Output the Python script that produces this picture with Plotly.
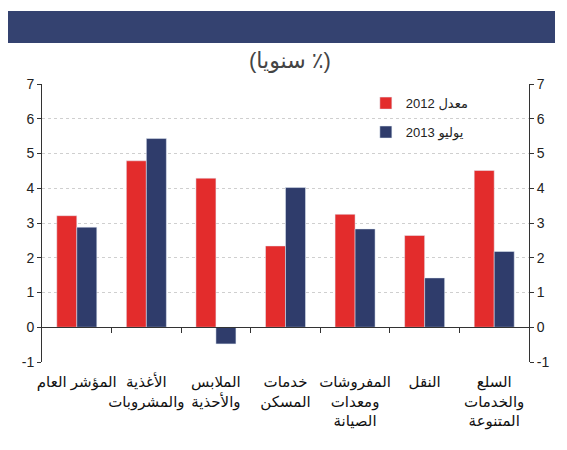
import plotly.graph_objects as go

categories = [
    "المؤشر العام",
    "الأغذية والمشروبات",
    "الملابس والأحذية",
    "خدمات المسكن",
    "المفروشات ومعدات الصيانة",
    "النقل",
    "السلع والخدمات المتنوعة",
]
tick_labels = [
    "المؤشر العام",
    "الأغذية<br>والمشروبات",
    "الملابس<br>والأحذية",
    "خدمات<br>المسكن",
    "المفروشات<br>ومعدات<br>الصيانة",
    "النقل",
    "السلع<br>والخدمات<br>المتنوعة",
]
avg_2012 = [3.21, 4.79, 4.29, 2.34, 3.25, 2.64, 4.51]
july_2013 = [2.88, 5.43, -0.48, 4.02, 2.83, 1.42, 2.18]
y_ticks = [-1, 0, 1, 2, 3, 4, 5, 6, 7]

RED = "#e32c2c"
BLUE = "#2f3c6b"
FONT = "Arial, Liberation Sans, DejaVu Sans, sans-serif"

n = len(categories)
boundaries = [i + 0.5 for i in range(n - 1)]
y_text = [str(v) for v in y_ticks]

fig = go.Figure()
fig.add_trace(go.Bar(x=categories, y=avg_2012, name="معدل 2012",
                     marker_color=RED, legendgroup="a"))
fig.add_trace(go.Bar(x=categories, y=july_2013, name="يوليو 2013",
                     marker_color=BLUE, legendgroup="b"))
# invisible helper so the zero-line axis and the right axis get drawn
fig.add_trace(go.Scatter(x=list(range(n)), y=avg_2012, xaxis="x2",
                         yaxis="y2", mode="markers",
                         marker=dict(opacity=0), showlegend=False,
                         hoverinfo="skip"))

# page body adds an 8px offset, so the figure is a little smaller
fig.update_layout(
    width=551, height=434,
    margin=dict(l=34, r=30, t=76, b=80),
    paper_bgcolor="white", plot_bgcolor="white",
    font=dict(family=FONT, size=14, color="#222"),
    barmode="group", bargap=0.425, bargroupgap=0,
    showlegend=True,
    legend=dict(x=0.665, y=0.985, xanchor="left", yanchor="top",
                font=dict(size=13), tracegroupgap=9,
                traceorder="grouped", bgcolor="rgba(0,0,0,0)"),
    xaxis=dict(type="category", tickvals=categories, ticktext=tick_labels,
               tickangle=0, automargin=False,
               showline=False, ticks="", showgrid=False,
               tickfont=dict(size=15, color="#111"), ticklabelstandoff=9),
    xaxis2=dict(overlaying="x", anchor="free", position=1 / 8,
                type="linear", range=[-0.5, n - 0.5], tickvals=boundaries,
                showticklabels=False, ticks="outside", ticklen=5,
                tickcolor="#333", showline=True, linecolor="#333",
                linewidth=1, showgrid=False, zeroline=False,
                automargin=False),
    yaxis=dict(range=[-1, 7], tickvals=y_ticks, ticktext=y_text,
               showline=True, linecolor="#333", automargin=False,
               ticks="outside", ticklen=4, tickcolor="#333",
               showgrid=True, gridcolor="#cfcfcf", griddash="dot",
               zeroline=False, tickfont=dict(size=14)),
    yaxis2=dict(overlaying="y", side="right", anchor="x", range=[-1, 7],
                tickvals=y_ticks, ticktext=y_text, automargin=False,
                showline=True, linecolor="#333", ticks="outside",
                ticklen=4, tickcolor="#333", showgrid=False,
                zeroline=False, tickfont=dict(size=14)),
    shapes=[dict(type="rect", xref="paper", yref="paper",
                 x0=-0.0698, x1=1.0534, y0=1.1475, y1=1.2626,
                 fillcolor="#344270", line_width=0, layer="above")],
    annotations=[dict(text="(سنويا ٪)", xref="paper", yref="paper",
                      x=0.509, y=1.086, xanchor="center", yanchor="middle",
                      showarrow=False,
                      font=dict(size=22, color="#444"))],
)

fig.write_html("out.html")
